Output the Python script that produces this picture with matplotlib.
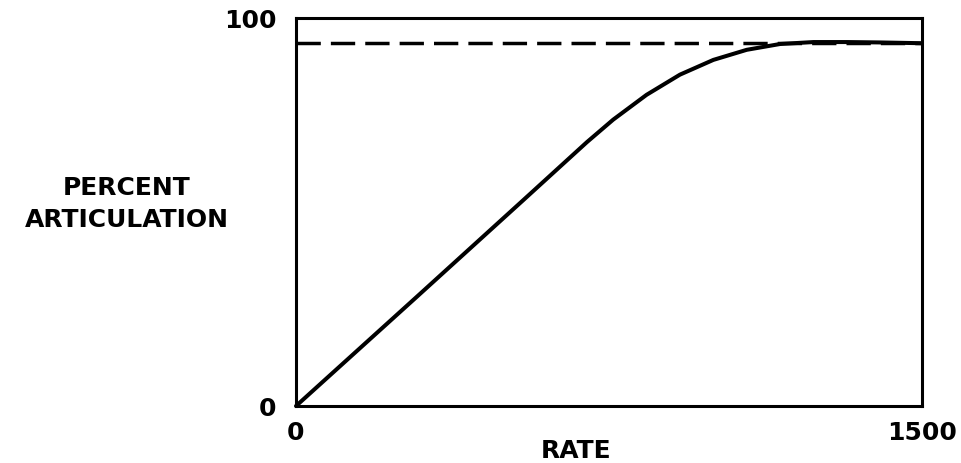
from matplotlib import pyplot as plt

# values
rate = [0, 290, 545, 697, 760, 840, 920, 1000, 1080, 1160, 1240, 1320, 1400, 1500]
articulation = [0, 28.2, 53.1, 68.0, 73.8, 80.2, 85.4, 89.2, 91.8, 93.3, 93.8, 93.8, 93.7, 93.5]
asymptote = 93.5
xTicks = [0, 1500]
yTicks = [0, 100]

fig = plt.figure(figsize=(9.62, 4.63), dpi=100)
ax = fig.add_axes([296 / 962, 57 / 463, 626 / 962, 388 / 463])

ax.axhline(asymptote, color='black', linewidth=2.5, linestyle=(0, (7, 2.9)), zorder=2)
ax.plot(rate, articulation, color='black', linewidth=2.9, solid_capstyle='round',
        solid_joinstyle='round', zorder=3, clip_on=False)

ax.set_xlim(0, 1500)
ax.set_ylim(0, 100)
ax.set_xticks(xTicks)
ax.set_yticks(yTicks)
ax.tick_params(axis='both', length=0, labelsize=18)
ax.tick_params(axis='x', pad=11)
ax.tick_params(axis='y', pad=14)
for label in ax.get_xticklabels() + ax.get_yticklabels():
    label.set_fontweight('bold')
for spine in ax.spines.values():
    spine.set_linewidth(2.2)

fig.text(127 / 962, 1 - 204 / 463, 'PERCENT\nARTICULATION', ha='center', va='center',
         multialignment='center', fontsize=18, fontweight='bold', linespacing=1.45)
fig.text(576 / 962, 1 - 451 / 463, 'RATE', ha='center', va='center', fontsize=18, fontweight='bold')

fig.savefig('out.png', dpi=100)
